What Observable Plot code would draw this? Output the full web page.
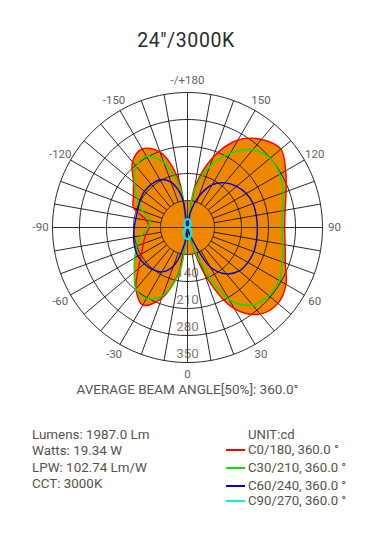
<!DOCTYPE html>
<html><head><meta charset="utf-8">
<script src="https://cdn.jsdelivr.net/npm/d3@7"></script>
<script src="https://cdn.jsdelivr.net/npm/@observablehq/plot@0.6"></script>
<style>
html,body{margin:0;padding:0;background:#fff;}
#wrap{position:relative;width:370px;height:533px;overflow:hidden;font-family:Roboto,"DejaVu Sans",sans-serif;}
.t{position:absolute;white-space:nowrap;line-height:1;}
#title{left:0;width:372px;text-align:center;top:31px;font-size:19.5px;color:#2b2b2b;letter-spacing:0.6px;}
#beam{left:0;width:375px;text-align:center;top:383px;font-size:13.5px;color:#555;}
.info{left:32px;font-size:13.4px;color:#5a5049;}
.leg{left:248px;font-size:13.2px;color:#5a5049;}
#chart{position:absolute;left:0;top:60px;}
</style></head><body><div id="wrap">
<div class="t" id="title"></div>
<div id="chart"></div>
<div class="t" id="beam"></div>
<div id="info"></div>
</div>
<script>
// ---- data ----
const title = '24"/3000K';
const beamText = "AVERAGE BEAM ANGLE[50%]: 360.0°";
const infoLines = ["Lumens: 1987.0 Lm", "Watts: 19.34 W", "LPW: 102.74 Lm/W", "CCT: 3000K"];
const unitLabel = "UNIT:cd";
const seriesNames = ["C0/180, 360.0 °", "C30/210, 360.0 °", "C60/240, 360.0 °", "C90/270, 360.0 °"];
const seriesColors = ["#ff0000", "#00e600", "#0000e0", "#00f0f0"];
const ringValues = [70, 140, 210, 280, 350];
const angleTicks = [0, 30, 60, 90, 120, 150, 180, -150, -120, -90, -60, -30];
const angleTickLabels = ["0", "30", "60", "90", "120", "150", "-/+180", "-150", "-120", "-90", "-60", "-30"];
// gamma angles, -180 (up, left half) .. 0 (down) .. 180 (up, right half)
const angles = [-180,-170,-160,-150,-140,-130,-120,-110,-100,-90,-80,-70,-60,-50,-40,-30,-20,-10,0,
  10,20,30,40,50,60,70,80,90,100,110,120,130,140,150,160,170,180];
const c0_180 = [0,120,208,235,222,183,162,149,108,100,110,122,138,166,208,232,195,110,0,
  10,125,243,293,306,295,270,257,252,257,272,294,316,298,262,194,104,0];
const c30_210 = [0,100,180,212,207,180,150,125,98,103,122,140,158,180,208,212,188,115,0,
  12,95,215,263,275,275,262,250,245,250,264,276,279,263,222,168,95,0];
const c60_240 = [0,78,125,143,146,146,142,137,136,138,142,146,148,146,142,133,106,42,0,
  6,28,118,157,175,181,183,182,181,181,181,176,166,151,128,85,36,0];
const c90_270 = [22,21,19,16,13,11,8,5,3,1,3,6,9,13,17,20,24,28,30,
  28,24,20,17,13,9,6,3,1,3,5,8,11,13,16,19,21,22];
const seriesValues = [c0_180, c30_210, c60_240, c90_270];

// ---- layout ----
const W = 370, H = 330, svgTop = 60;
const cx = 187, cy = 227 - svgTop;
const k = 135 / 350; // px per cd
const rad = d => d * Math.PI / 180;
const polar = (g, r) => ({x: r * Math.sin(rad(g)), y: -r * Math.cos(rad(g))});

const curves = seriesValues.map((vals, s) =>
  angles.slice(0, -1).map((a, i) => ({s, ...polar(a, vals[i])})));
const circleAngles = d3.range(0, 360, 2);
const rings = ringValues.flatMap(v => circleAngles.map(a => ({ring: v, ...polar(a, v)})));
const innerDisk = rings.filter(d => d.ring === ringValues[0]);
const spokes = d3.range(0, 360, 10).filter(a => a % 90 !== 0).map(a => {
  const p = polar(a, ringValues[0]), q = polar(a, ringValues[ringValues.length - 1]);
  return {x1: p.x, y1: p.y, x2: q.x, y2: q.y};
});
const rMax = ringValues[ringValues.length - 1];
const axesLines = [{x1: -rMax, y1: 0, x2: rMax, y2: 0}, {x1: 0, y1: -rMax, x2: 0, y2: rMax}];
const ringLabels = ringValues.map(v => ({label: String(v), ...polar(0, v)}));
const tickLabels = angleTicks.map((a, i) => ({label: angleTickLabels[i], ...polar(a, 381)}));

const orange = "#ef8800";
const marks = [
  Plot.text(ringLabels, {x: "x", y: "y", text: "label", dy: -9, fontSize: 13.5, fill: "#8a7b6e", fontFamily: "Roboto"}),
  Plot.line(innerDisk, {x: "x", y: "y", curve: "linear-closed", fill: orange, stroke: "none"}),
  ...curves.slice(0, 3).map(c => Plot.line(c, {x: "x", y: "y", curve: "catmull-rom-closed", fill: orange, stroke: "none"})),
  Plot.line(rings, {x: "x", y: "y", z: "ring", curve: "linear-closed", stroke: "#111", strokeWidth: 0.9}),
  Plot.link(spokes, {x1: "x1", y1: "y1", x2: "x2", y2: "y2", stroke: "#111", strokeWidth: 0.9}),
  Plot.link(axesLines, {x1: "x1", y1: "y1", x2: "x2", y2: "y2", stroke: "#333", strokeWidth: 1}),
  ...curves.map((c, s) => Plot.line(c, {x: "x", y: "y", curve: "catmull-rom-closed", stroke: seriesColors[s], strokeWidth: s === 3 ? 2 : 1.4})),
  Plot.text(tickLabels, {x: "x", y: "y", text: "label", fontSize: 11.5, fill: "#6b6058", fontFamily: "Roboto"})
];

const chart = Plot.plot({
  width: W, height: H, margin: 0,
  x: {domain: [-cx / k, (W - cx) / k]},
  y: {domain: [-(H - cy) / k, cy / k]},
  axis: null,
  marks
});
document.getElementById("chart").appendChild(chart);
document.getElementById("title").textContent = title;
document.getElementById("beam").textContent = beamText;

const info = document.getElementById("info");
const infoTops = [428, 444, 461, 477];
infoLines.forEach((t, i) => {
  const d = document.createElement("div"); d.className = "t info"; d.style.top = infoTops[i] + "px"; d.textContent = t; info.appendChild(d);
});
const legTops = [428, 443, 461, 479, 494];
const u = document.createElement("div"); u.className = "t leg"; u.style.top = legTops[0] + "px"; u.textContent = unitLabel; info.appendChild(u);
seriesNames.forEach((t, i) => {
  const d = document.createElement("div"); d.className = "t leg"; d.style.top = legTops[i + 1] + "px"; d.textContent = t; info.appendChild(d);
  const sw = document.createElement("div");
  sw.style.cssText = `position:absolute;left:226px;width:19px;height:2px;top:${legTops[i + 1] + 6}px;background-color:${seriesColors[i]};`;
  info.appendChild(sw);
});
</script>
</body></html>
